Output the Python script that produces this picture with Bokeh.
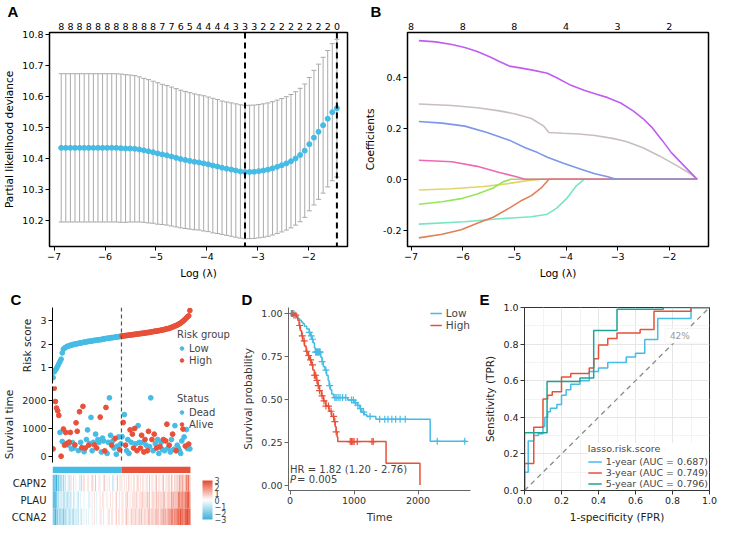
import numpy as np
from bokeh.plotting import figure
from bokeh.layouts import row, column
from bokeh.models import (ColumnDataSource, Whisker, TeeHead, Span, LinearAxis, Range1d,
                          FixedTicker, Label, Legend, LegendItem, LinearColorMapper, ColorBar,
                          FactorRange, NumeralTickFormatter, BoxAnnotation, CustomJSTickFormatter,
                          AllLabels)
from bokeh.transform import linear_cmap
from bokeh.embed import file_html
from bokeh.resources import INLINE

FONT = "DejaVu Sans"
FONT_B = "Liberation Sans"
BLUE = "#45BCE6"
RED = "#E8503A"
TEAL = "#1CA597"

# ---------------- Panel A data (cross-validation curve) ----------------
loglam = np.linspace(-6.86, -1.448, 61)
cv_mean = [10.433] * 13 + [10.432, 10.431, 10.431, 10.430, 10.428, 10.425, 10.422, 10.419, 10.415,
           10.412, 10.409, 10.405, 10.401, 10.397, 10.394, 10.391, 10.388, 10.386, 10.383, 10.380,
           10.376, 10.373, 10.369, 10.366, 10.363, 10.360, 10.357, 10.355, 10.3555, 10.356, 10.358,
           10.360, 10.363, 10.367, 10.372, 10.377, 10.383, 10.390, 10.399, 10.410, 10.424, 10.445,
           10.466, 10.485, 10.506, 10.527, 10.548, 10.561]
cv_se = [0.239] * 14 + [0.238, 0.237, 0.236, 0.234, 0.232, 0.231, 0.229, 0.228, 0.226, 0.225, 0.224,
         0.223, 0.222, 0.221, 0.220, 0.219, 0.218, 0.218, 0.217, 0.217, 0.216] + [0.215] * 20 + \
        [0.217, 0.218, 0.219, 0.220, 0.221, 0.222]
nz_count = [8, 8, 8, 8, 8, 8, 8, 8, 8, 8, 8, 7, 7, 6, 5, 4, 4, 4, 4, 3, 3, 3, 2, 2, 2, 2, 2, 2, 2, 2, 0]

# ---------------- Panel B data (coefficient paths) ----------------
b_top_ticks = [-7, -6, -5, -4, -3, -2]
b_top_labels = ["8", "8", "8", "4", "3", "2"]
paths = [
    ("#E3D46A", [-6.85, -6.21, -5.59, -5.16, -4.79, -4.48, -1.46],
     [-0.042, -0.037, -0.028, -0.018, -0.006, 0.0, 0.0]),
    ("#97E55A", [-6.85, -6.40, -6.03, -5.72, -5.41, -5.22, -5.07, -1.46],
     [-0.098, -0.088, -0.076, -0.058, -0.034, -0.010, 0.0, 0.0]),
    ("#78E5C6", [-6.85, -5.96, -5.29, -4.67, -4.36, -4.18, -3.99, -3.81, -3.65, -1.46],
     [-0.176, -0.167, -0.155, -0.147, -0.137, -0.113, -0.076, -0.028, 0.0, 0.0]),
    ("#E37E55", [-6.85, -6.40, -6.03, -5.72, -5.41, -5.10, -4.85, -4.67, -4.48, -4.33, -1.46],
     [-0.230, -0.216, -0.198, -0.173, -0.149, -0.113, -0.082, -0.064, -0.034, 0.0, 0.0]),
    ("#EF68B4", [-6.85, -6.21, -5.72, -5.29, -4.98, -4.79, -1.46],
     [0.075, 0.069, 0.051, 0.027, 0.011, 0.0, 0.0]),
    ("#7B97E6", [-6.85, -6.40, -5.96, -5.53, -5.10, -4.79, -4.55, -4.36, -4.05, -3.68, -3.44, -3.19,
                 -3.03, -1.46],
     [0.227, 0.221, 0.209, 0.184, 0.154, 0.124, 0.105, 0.087, 0.063, 0.038, 0.022, 0.010, 0.0, 0.0]),
    ("#C9BEBE", [-6.85, -6.21, -5.72, -5.29, -4.98, -4.67, -4.43, -4.33, -4.06, -3.75, -3.44, -3.07,
                 -2.82, -2.51, -2.20, -1.83, -1.58, -1.46],
     [0.296, 0.290, 0.281, 0.269, 0.257, 0.239, 0.209, 0.184, 0.181, 0.178, 0.172, 0.160, 0.148,
      0.124, 0.093, 0.051, 0.021, 0.0]),
    ("#C05CF2", [-6.85, -6.52, -6.21, -5.96, -5.72, -5.47, -5.29, -5.10, -4.92, -4.67, -4.36, -4.18,
                 -3.93, -3.65, -3.44, -3.19, -2.94, -2.70, -2.51, -2.33, -2.14, -1.96, -1.46],
     [0.545, 0.540, 0.530, 0.518, 0.502, 0.481, 0.463, 0.445, 0.439, 0.430, 0.417, 0.399, 0.372,
      0.350, 0.336, 0.321, 0.300, 0.269, 0.239, 0.203, 0.154, 0.105, 0.0]),
]

# ---------------- Panel C data (risk plot) ----------------
risk_score = [0.55, 0.80, 0.88, 0.95, 1.05, 1.15, 1.25, 1.35, 1.62, 1.78,
              1.83, 1.86, 1.89, 1.91, 1.93, 1.95, 1.96, 1.97, 1.99, 2.00,
              2.01, 2.02, 2.03, 2.04, 2.05, 2.06, 2.07, 2.08, 2.09, 2.10,
              2.11, 2.12, 2.12, 2.13, 2.14, 2.15, 2.16, 2.16, 2.17, 2.18,
              2.19, 2.19, 2.20, 2.21, 2.22, 2.23, 2.24, 2.25, 2.25, 2.26,
              2.27, 2.28, 2.28, 2.29, 2.30, 2.31, 2.31, 2.32, 2.33, 2.34,
              2.35, 2.35, 2.36, 2.37, 2.37, 2.38, 2.39, 2.39, 2.40, 2.41,
              2.41, 2.42, 2.43, 2.43, 2.44, 2.45, 2.45, 2.46, 2.47, 2.47,
              2.48, 2.49, 2.50, 2.50, 2.51, 2.52, 2.53, 2.54, 2.55, 2.56,
              2.56, 2.57, 2.58, 2.59, 2.60, 2.61, 2.62, 2.63, 2.65, 2.66,
              2.67, 2.68, 2.70, 2.72, 2.74, 2.76, 2.78, 2.80, 2.82, 2.85,
              2.88, 2.91, 2.95, 2.99, 3.03, 3.08, 3.13, 3.18, 3.22, 3.45]
surv_time = [280, 2420, 1950, 1720, 1620, 1460, 860, 20, 540, 980,
             410, 860, 470, 420, 520, 860, 280, 500, 310, 420,
             1200, 900, 220, 1590, 510, 320, 1780, 180, 310, 610,
             950, 410, 470, 1390, 215, 510, 420, 800, 310, 610,
             510, 1400, 170, 660, 560, 210, 1740, 120, 510, 2080,
             760, 410, 560, 310, 650, 90, 380, 700, 250, 460,
             710, 1210, 1490, 410, 215, 610, 120, 950, 510, 800,
             310, 1000, 460, 215, 1100, 510, 310, 760, 510, 170,
             610, 410, 215, 900, 360, 2080, 610, 215, 800, 460,
             310, 610, 120, 360, 510, 265, 610, 215, 560, 1150,
             310, 410, 170, 610, 800, 265, 1100, 215, 410, 310,
             215, 120, 560, 980, 700, 380, 960, 290, 450, 280]
surv_status = list("AAAAAADADA" "AAADAADDDA" "AADADAADAD" "DADDDDADAD"
                   "DADDDAADDD" "DADDADDDAD" "DADADDDADA" "AADADDAADA"
                   "ADAADDADAD" "ADDADDADAA" "DADDADDADD" "DDDADADDAD")
capn2 = [-3, -2.5, -2, -3, -1.5, -2.5, -1, -2, -0.5, -1.5,
         -0.5, -1, 0, -0.5, -1, 0.5, -0.5, 0, -1, 0,
         -0.5, 0, 0, 0.5, -0.5, 1, 0, 1, 0, 0,
         -0.5, 0.5, 0, 0, 1, -0.5, 0, 1, 0, 0,
         0.5, -0.5, 0, 0, 0.5, 1, 0, -0.5, 0, 0.5,
         0, 0, -1, 0.5, 0, 0, 1, 0, -0.5, 0.5,
         0.5, 0, 0.5, 0, 0.5, 0, 1, 0, 0.5, 0,
         0.5, 0.5, 0, 0.5, 1, 0, 0.5, 0, 0.5, 0.5,
         0, 0.5, 0.5, 0, 1, 0, 0.5, 0.5, 0, 0.5,
         1, 0, 0.5, 0.5, 0, 0.5, 1, 0, -0.5, 0.5,
         0.5, 1, 0, 1, 0.5, 0, 1, 0.5, 1, 0.5,
         1.5, 1, 1, 2, 0.5, 1, 2, 1.5, 2.5, 1]
plau = [-3, -3, -2.5, -2, -1, -1.5, -0.5, -1, -0.5, -1,
        -1, -0.5, -1, -1.5, -0.5, -1, -0.5, 0, -1, -0.5,
        0, -0.5, -1, 0, -0.5, 0, 0, -0.5, 0, 0,
        0, -0.5, 0.5, 0, -0.5, 0, 0.5, 0, -0.5, 0,
        0, 0.5, 0, 0.5, -0.5, 0, 0, 0.5, 0, 0,
        0.5, 0, 0.5, 0, 0, 1, 0, 0, 0.5, 0,
        0.5, 0.5, 0, 0.5, 0.5, 1, 0, 0.5, 0, 0.5,
        0.5, 0.5, 0.5, 1, 0, 0.5, 0.5, 0.5, 1, 0.5,
        0.5, 0.5, 1, 0.5, 1, 0, 0.5, 1, 0.5, 0.5,
        1, 0.5, 1, 0.5, 1, 0.5, 1, 1, 0.5, 0.5,
        1, 1, 0.5, 1.5, 1, 1.5, 1, 1.5, 1, 2,
        2, 1.5, 2, 2.5, 1.5, 2.5, 2, 2.5, 3, 2]
ccna2 = [-2.5, -2, -3, -1.5, -2, -1, -2, -1.5, -1, -2,
         -1, -1.5, -1, -0.5, -1.5, -1, -0.5, -1, -1.5, -0.5,
         -1, -0.5, -1, 0, -0.5, -1, 0, -0.5, 0, -0.5,
         0, -0.5, 0, 0, -0.5, 0, 0.5, 0, -0.5, 0,
         0, 0.5, -0.5, 0, 0.5, 0, 0, 0, 0.5, 0.5,
         0, 0.5, 0.5, 0, 0, 1, 0, 0.5, 0.5, 0,
         0.5, 0.5, 0, 0.5, 1, 0.5, 0.5, 0, 1, 0.5,
         0.5, 0.5, 1, 0.5, 0.5, 1, 0.5, 1, 0.5, 0.5,
         1, 0.5, 0.5, 1, 1, 0.5, 1, 1, 0.5, 1,
         1, 1, 1, 0.5, 1.5, 1, 1.5, 1, 1.5, 1,
         1.5, 2, 1.5, 2, 2, 1.5, 2.5, 2, 2.5, 2.5,
         2, 3, 2.5, 3, 2, 3, 2.5, 3, 2.5, 3]
genes = ["CAPN2", "PLAU", "CCNA2"]

# ---------------- Panel D data (Kaplan-Meier) ----------------
km_low_t = [0, 75, 100, 125, 150, 175, 200, 225, 260, 300, 320, 340, 360, 380, 395, 480, 500, 520, 545,
            570, 595, 610, 630, 650, 680, 900, 1000, 1050, 1090, 1120, 1160, 1200, 1340, 2190, 2750]
km_low_s = [1.0, 0.99, 0.98, 0.97, 0.96, 0.95, 0.94, 0.925, 0.91, 0.89, 0.87, 0.85, 0.83, 0.80, 0.775,
            0.745, 0.72, 0.69, 0.67, 0.64, 0.61, 0.58, 0.555, 0.53, 0.51, 0.495, 0.48, 0.465, 0.445,
            0.425, 0.41, 0.40, 0.383, 0.255, 0.255]
km_high_t = [0, 60, 100, 120, 140, 160, 180, 200, 225, 250, 275, 300, 330, 355, 380, 410, 435, 460, 490,
             520, 560, 610, 650, 685, 705, 720, 735, 745, 1500, 2030]
km_high_s = [1.0, 0.99, 0.98, 0.96, 0.93, 0.90, 0.87, 0.84, 0.81, 0.78, 0.755, 0.73, 0.70, 0.67, 0.64,
             0.61, 0.58, 0.55, 0.52, 0.49, 0.46, 0.43, 0.40, 0.37, 0.34, 0.31, 0.28, 0.253, 0.127, 0.0]
cens_low = [20, 40, 60, 300, 330, 350, 400, 410, 420, 430, 440, 450, 460, 470, 500, 560, 620, 700, 720,
            750, 780, 820, 870, 960, 990, 1020, 1060, 1100, 1150, 1250, 1400, 1480, 1530, 1590, 1650,
            1720, 1800, 2300, 2730]
cens_high = [30, 60, 90, 150, 190, 220, 260, 290, 320, 350, 380, 400, 420, 440, 460, 500, 530, 560, 600,
             640, 680, 700, 720, 940, 960, 980, 1000, 1050, 1280, 1300]

# ---------------- Panel E data (ROC) ----------------
fpr_1y = [0, 0, 0.02, 0.02, 0.05, 0.05, 0.075, 0.075, 0.1, 0.1, 0.11, 0.11, 0.125, 0.125, 0.14, 0.14,
          0.175, 0.175, 0.2, 0.2, 0.225, 0.225, 0.25, 0.25, 0.3, 0.3, 0.35, 0.35, 0.4, 0.4, 0.45, 0.45,
          0.55, 0.55, 0.6, 0.6, 0.65, 0.65, 0.72, 0.72, 0.9, 0.9, 1.0]
tpr_1y = [0, 0.1, 0.1, 0.27, 0.27, 0.3, 0.3, 0.31, 0.31, 0.35, 0.35, 0.4, 0.4, 0.43, 0.43, 0.45,
          0.45, 0.47, 0.47, 0.52, 0.52, 0.55, 0.55, 0.58, 0.58, 0.6, 0.6, 0.65, 0.65, 0.67, 0.67, 0.70,
          0.70, 0.73, 0.73, 0.75, 0.75, 0.825, 0.825, 0.94, 0.94, 1.0, 1.0]
fpr_3y = [0, 0, 0.05, 0.05, 0.1, 0.1, 0.125, 0.125, 0.15, 0.15, 0.2, 0.2, 0.25, 0.25, 0.35, 0.35,
          0.375, 0.375, 0.4, 0.4, 0.45, 0.45, 0.5, 0.5, 0.625, 0.625, 0.7, 0.7, 0.9, 0.9, 1.0]
tpr_3y = [0, 0.148, 0.148, 0.345, 0.345, 0.5, 0.5, 0.52, 0.52, 0.54, 0.54, 0.62, 0.62, 0.64, 0.64,
          0.67, 0.67, 0.72, 0.72, 0.795, 0.795, 0.83, 0.83, 0.86, 0.86, 0.88, 0.88, 0.98, 0.98, 1.0, 1.0]
fpr_5y = [0, 0, 0.122, 0.122, 0.3, 0.3, 0.374, 0.374, 0.5, 0.5, 0.75, 0.75, 1.0]
tpr_5y = [0, 0.316, 0.316, 0.595, 0.595, 0.615, 0.615, 0.875, 0.875, 0.99, 0.99, 1.0, 1.0]
roc_labels = ["1-year (AUC = 0.687)", "3-year (AUC = 0.749)", "5-year (AUC = 0.796)"]


# ---------------- helpers ----------------
def style_axes(p, tick_size="9.5px", label_size="10.5px", color="black", line_color="black"):
    for ax in list(p.xaxis) + list(p.yaxis):
        ax.major_label_text_font = FONT
        ax.major_label_text_font_size = tick_size
        ax.major_label_text_color = color
        ax.axis_label_text_font = FONT
        ax.axis_label_text_font_size = label_size
        ax.axis_label_text_font_style = "normal"
        ax.axis_label_text_color = color
        ax.minor_tick_line_color = None
        ax.major_tick_in = 0
        ax.major_tick_out = 4
        ax.major_tick_line_color = line_color
        ax.axis_line_color = line_color
        ax.major_label_standoff = 2
        ax.axis_label_standoff = 4


def letter(p, txt, offset):
    p.title.text = txt
    p.title.align = "left"
    p.title.offset = offset
    p.title.standoff = 0
    p.title.text_font = FONT_B
    p.title.text_font_style = "bold"
    p.title.text_font_size = "15px"
    p.title.text_color = "black"


def base_fig(**kw):
    p = figure(output_backend="svg", toolbar_location=None, **kw)
    p.xgrid.visible = False
    p.ygrid.visible = False
    return p


TOP_H = 288
BOT_H = 237

# ---------------- Panel A ----------------
step = loglam[1] - loglam[0]
xa0, xa1 = -7.09, -1.24
pA = base_fig(width=360, height=TOP_H, x_range=Range1d(xa0, xa1), y_range=Range1d(10.115, 10.805),
              min_border_left=46, min_border_right=13, min_border_top=0, min_border_bottom=42)
pA.outline_line_color = "black"
pA.outline_line_width = 1.5
pA.extra_x_ranges = {"idx": Range1d((xa0 - loglam[0]) / step, (xa1 - loglam[0]) / step)}
upper = [m + s for m, s in zip(cv_mean, cv_se)]
lower = [m - s for m, s in zip(cv_mean, cv_se)]
srcA = ColumnDataSource(dict(x=loglam, mean=cv_mean, upper=upper, lower=lower))
pA.add_layout(Whisker(source=srcA, base="x", upper="upper", lower="lower", line_color="#AAAAAA",
                      line_width=1,
                      upper_head=TeeHead(size=5, line_color="#AAAAAA", line_width=1),
                      lower_head=TeeHead(size=5, line_color="#AAAAAA", line_width=1)))
pA.scatter("x", "mean", source=srcA, size=5, color=BLUE)
imin = int(np.argmin(cv_mean))
for loc in (loglam[imin], loglam[-1]):
    pA.add_layout(Span(location=loc, dimension="height", line_color="black", line_width=2,
                       line_dash="6 4"))
pA.xaxis.ticker = FixedTicker(ticks=[-7, -6, -5, -4, -3, -2])
pA.yaxis.ticker = FixedTicker(ticks=[10.2, 10.3, 10.4, 10.5, 10.6, 10.7, 10.8])
pA.xaxis.axis_label = "Log (λ)"
pA.yaxis.axis_label = "Partial likelihood deviance"
topA = LinearAxis(x_range_name="idx", ticker=FixedTicker(ticks=list(range(0, 61, 2))),
                  formatter=CustomJSTickFormatter(args=dict(labels=[str(v) for v in nz_count]),
                                                  code="const i = Math.round(tick/2); return (i >= 0 && i < labels.length) ? labels[i] : '';"))
pA.add_layout(topA, "above")
style_axes(pA)
topA.axis_line_color = None
topA.major_tick_line_color = None
topA.major_tick_out = 0
topA.major_label_standoff = 3
letter(pA, "A", -42)

# ---------------- Panel B ----------------
pB = base_fig(width=358, height=TOP_H, x_range=Range1d(-7.07, -1.24), y_range=Range1d(-0.264, 0.577),
              min_border_left=40, min_border_right=10, min_border_top=0, min_border_bottom=42)
pB.outline_line_color = "black"
pB.outline_line_width = 1.5
for col, xs, ys in paths:
    pB.line(xs, ys, color=col, line_width=1.6)
pB.xaxis.ticker = FixedTicker(ticks=[-7, -6, -5, -4, -3, -2])
pB.yaxis.ticker = FixedTicker(ticks=[-0.2, 0.0, 0.2, 0.4])
pB.yaxis.formatter = NumeralTickFormatter(format="0.0")
pB.xaxis.axis_label = "Log (λ)"
pB.yaxis.axis_label = "Coefficients"
topB = LinearAxis(ticker=FixedTicker(ticks=b_top_ticks),
                  formatter=CustomJSTickFormatter(args=dict(labels=b_top_labels),
                                                  code="const i = Math.round(tick) + 7; return (i >= 0 && i < labels.length) ? labels[i] : '';"))
pB.add_layout(topB, "above")
style_axes(pB)
topB.axis_line_color = None
topB.major_tick_line_color = None
topB.major_tick_out = 0
topB.major_label_standoff = 3
letter(pB, "B", -37)

# ---------------- Panel C ----------------
N = len(risk_score)
pid = list(range(N))
n_low = N // 2
xr_c = Range1d(-0.5, -0.5 + N * 190 / 144)


def c_fig(h, top, bottom, **kw):
    p = base_fig(width=236, height=h, x_range=xr_c, min_border_left=44, min_border_right=2,
                 min_border_top=top, min_border_bottom=bottom, x_axis_location=None, **kw)
    p.outline_line_color = None
    return p


pCr = c_fig(97, 0, 2, y_range=Range1d(0.3, 3.58))
rl = pCr.scatter(pid[:n_low], risk_score[:n_low], size=4.8, color=BLUE)
rh = pCr.scatter(pid[n_low:], risk_score[n_low:], size=4.8, color=RED)
pCr.yaxis.ticker = FixedTicker(ticks=[1, 2, 3])
pCr.yaxis.axis_label = "Risk score"
pCr.add_layout(Span(location=n_low - 0.5, dimension="height", line_color="#555555",
                    line_dash="4 3", line_width=1.2))
legR = Legend(items=[LegendItem(label="Low", renderers=[rl]), LegendItem(label="High", renderers=[rh])],
              title="Risk group", location=(125, 17))
pCr.add_layout(legR)

pCs = c_fig(78, 1, 1, y_range=Range1d(-200, 2480))
dead = [i for i in pid if surv_status[i] == "D"]
alive = [i for i in pid if surv_status[i] == "A"]
rd = pCs.scatter(dead, [surv_time[i] for i in dead], size=4.8, color=BLUE)
ra = pCs.scatter(alive, [surv_time[i] for i in alive], size=4.8, color=RED)
pCs.yaxis.ticker = FixedTicker(ticks=[0, 1000, 2000])
pCs.yaxis.axis_label = "Survival time"
pCs.add_layout(Span(location=n_low - 0.5, dimension="height", line_color="#555555",
                    line_dash="4 3", line_width=1.2))
legS = Legend(items=[LegendItem(label="Dead", renderers=[rd]), LegendItem(label="Alive", renderers=[ra])],
              title="Status", location=(125, 32))
pCs.add_layout(legS)

for lg in (legR, legS):
    lg.background_fill_alpha = 0
    lg.border_line_color = None
    lg.padding = 0
    lg.margin = 0
    lg.spacing = 0
    lg.glyph_width = 9
    lg.glyph_height = 12
    lg.label_height = 12
    lg.label_standoff = 3
    lg.label_text_font = FONT
    lg.label_text_font_size = "10px"
    lg.title_text_font = FONT
    lg.title_text_font_size = "10px"
    lg.title_text_font_style = "normal"
    lg.title_standoff = 2

# group strip: one block per risk group
pCb = c_fig(10, 1, 1, y_range=Range1d(0, 1), y_axis_location=None)
pCb.quad(left=[-0.5, n_low - 0.5], right=[n_low - 0.5, N - 0.5], bottom=0, top=1,
         fill_color=[BLUE, RED], line_color=None)


def lerp_palette(stops, n=101):
    out = []
    for k in range(n):
        t = k / (n - 1) * (len(stops) - 1)
        j = min(int(t), len(stops) - 2)
        f = t - j
        a = [int(stops[j][q:q + 2], 16) for q in (1, 3, 5)]
        b = [int(stops[j + 1][q:q + 2], 16) for q in (1, 3, 5)]
        out.append("#%02x%02x%02x" % tuple(round(a[c] + (b[c] - a[c]) * f) for c in range(3)))
    return out


palette = lerp_palette(["#3DB1DB", "#FFFFFF", "#E8472E"])
pCh = c_fig(52, 1, 0, y_range=FactorRange(factors=list(reversed(genes))))
hx, hy, hv = [], [], []
for g, vals in zip(genes, [capn2, plau, ccna2]):
    for i, v in enumerate(vals):
        hx.append(i)
        hy.append(g)
        hv.append(v)
srcH = ColumnDataSource(dict(x=hx, gene=hy, v=hv))
pCh.rect("x", "gene", width=1.04, height=1.0, source=srcH,
         fill_color=linear_cmap("v", palette, -3, 3), line_color=None)
mapper = LinearColorMapper(palette=palette, low=-3, high=3)
cbar = ColorBar(color_mapper=mapper, location=(150, 6), width=10, height=39,
                ticker=FixedTicker(ticks=[-3, -2, -1, 0, 1, 2, 3]),
                major_label_policy=AllLabels(),
                major_label_text_font=FONT, major_label_text_font_size="8px",
                major_tick_line_color=None, bar_line_color=None, padding=0, margin=0,
                label_standoff=2, background_fill_alpha=0, border_line_color=None)
pCh.add_layout(cbar)

for p in (pCr, pCs, pCh):
    style_axes(p, tick_size="9.5px", label_size="10.5px", color="#222222", line_color="black")
pCh.yaxis.major_tick_line_color = None
pCh.yaxis.axis_line_color = None
pCh.yaxis.major_label_text_font_size = "10px"
letter(pCr, "C", -42)
colC = column(pCr, pCs, pCb, pCh)

# ---------------- Panel D ----------------
pD = base_fig(width=236, height=BOT_H, x_range=Range1d(-25, 2820), y_range=Range1d(-0.032, 1.035),
              min_border_left=52, min_border_right=2, min_border_top=0, min_border_bottom=34)
pD.outline_line_color = None
r_low = pD.step(km_low_t, km_low_s, mode="after", color=BLUE, line_width=1.5)
r_high = pD.step(km_high_t, km_high_s, mode="after", color=RED, line_width=1.5)


def km_at(ts, ss, t):
    return ss[int(np.searchsorted(ts, t, side="right")) - 1]


pD.scatter(cens_low, [km_at(km_low_t, km_low_s, t) for t in cens_low], marker="cross", size=7,
           line_color=BLUE, line_width=1.2)
pD.scatter(cens_high, [km_at(km_high_t, km_high_s, t) for t in cens_high], marker="cross", size=7,
           line_color=RED, line_width=1.2)
pD.xaxis.ticker = FixedTicker(ticks=[0, 1000, 2000])
pD.yaxis.ticker = FixedTicker(ticks=[0, 0.25, 0.5, 0.75, 1.0])
pD.yaxis.formatter = NumeralTickFormatter(format="0.00")
pD.xaxis.axis_label = "Time"
pD.yaxis.axis_label = "Survival probability"
style_axes(pD, color="#333333", line_color="#666666")
legD = Legend(items=[LegendItem(label="Low", renderers=[r_low]), LegendItem(label="High", renderers=[r_high])],
              location="top_right", background_fill_alpha=0, border_line_color=None, padding=0,
              margin=0, spacing=0, glyph_width=12, glyph_height=12, label_height=12, label_standoff=4,
              label_text_font=FONT, label_text_font_size="10.5px")
pD.add_layout(legD)
pD.add_layout(Label(x=0, y=0.09, text="HR = 1.82 (1.20 - 2.76)", text_font=FONT, text_font_size="10px",
                    text_color="#444444", text_baseline="middle"))
pD.add_layout(Label(x=0, y=0.032, text="P", text_font=FONT, text_font_size="10px",
                    text_font_style="italic", text_color="#444444", text_baseline="middle"))
pD.add_layout(Label(x=0, y=0.032, x_offset=7, text=" = 0.005", text_font=FONT, text_font_size="10px",
                    text_color="#444444", text_baseline="middle"))
letter(pD, "D", -47)

# ---------------- Panel E ----------------
pE = figure(width=246, height=BOT_H, x_range=Range1d(0, 1), y_range=Range1d(0, 1), output_backend="svg",
            toolbar_location=None, min_border_left=52, min_border_right=9, min_border_top=0,
            min_border_bottom=32)
pE.outline_line_color = "#333333"
pE.outline_line_width = 1
tk = FixedTicker(ticks=[0, 0.2, 0.4, 0.6, 0.8, 1.0], minor_ticks=[0.1, 0.3, 0.5, 0.7, 0.9])
pE.xaxis.ticker = tk
pE.yaxis.ticker = tk
pE.xaxis.formatter = NumeralTickFormatter(format="0.0")
pE.yaxis.formatter = NumeralTickFormatter(format="0.0")
for g in (pE.xgrid, pE.ygrid):
    g.grid_line_color = "#E6E6E6"
    g.minor_grid_line_color = "#F3F3F3"
pE.add_layout(BoxAnnotation(left=0.76, right=0.995, bottom=0.805, top=0.885, fill_color="white",
                            fill_alpha=1, line_color="#E2E2E2", line_width=1))
pE.line([0, 1], [0, 1], color="#8A8A8A", line_dash="5 4", line_width=1.3)
e1 = pE.line(fpr_1y, tpr_1y, color=BLUE, line_width=1.5)
e3 = pE.line(fpr_3y, tpr_3y, color=RED, line_width=1.5)
e5 = pE.line(fpr_5y, tpr_5y, color=TEAL, line_width=1.5)
pE.add_layout(Label(x=0.84, y=0.845, text="42%", text_font=FONT, text_font_size="9px",
                    text_color="#9A9A9A", text_align="center", text_baseline="middle"))
pE.xaxis.axis_label = "1-specificity (FPR)"
pE.yaxis.axis_label = "Sensitivity (TPR)"
style_axes(pE, color="#222222", line_color="#333333")
legE = Legend(items=[LegendItem(label=l, renderers=[r]) for l, r in zip(roc_labels, [e1, e3, e5])],
              title="lasso.risk.score", location="bottom_right", background_fill_color="white",
              background_fill_alpha=1, border_line_color=None, padding=2, margin=1, spacing=0,
              glyph_width=14, glyph_height=11, label_height=11, label_standoff=4,
              label_text_font=FONT, label_text_font_size="9.5px", title_text_font=FONT,
              title_text_font_size="9.5px", title_text_font_style="normal", title_standoff=2)
pE.add_layout(legE)
letter(pE, "E", -45)

layout = column(row(pA, pB), row(colC, pD, pE))
with open("out.html", "w") as f:
    f.write(file_html(layout, INLINE))
